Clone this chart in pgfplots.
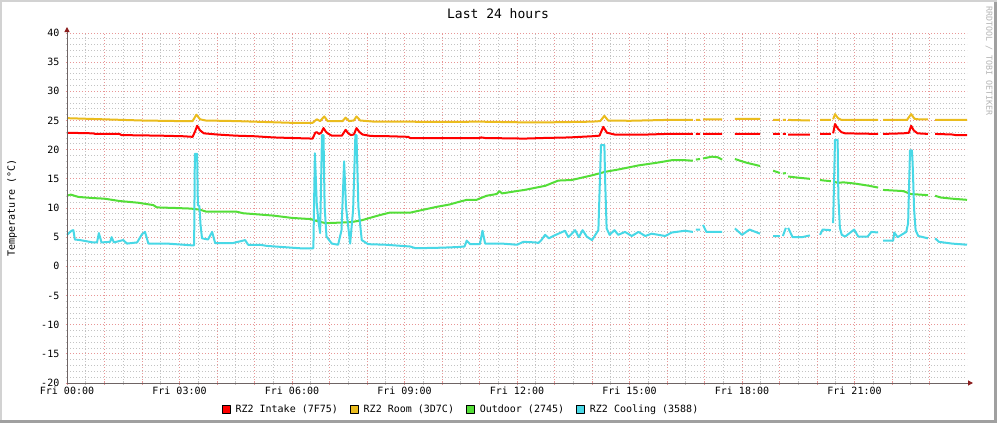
\documentclass[border=0pt]{standalone}
\usepackage{pgfplots}
\pgfplotsset{compat=1.18}
\usepackage{fontspec}
\setmainfont{DejaVu Sans Mono}
\usetikzlibrary{arrows.meta}
\definecolor{cIntake}{RGB}{255,0,0}
\definecolor{cRoom}{RGB}{234,188,30}
\definecolor{cOut}{RGB}{84,222,56}
\definecolor{cCool}{RGB}{72,216,230}
\definecolor{gMajor}{RGB}{232,150,150}
\definecolor{gMinor}{RGB}{195,195,195}
\definecolor{axcol}{RGB}{110,100,100}
\definecolor{arcol}{RGB}{140,30,30}
\definecolor{frameLight}{RGB}{210,210,210}
\definecolor{frameDark}{RGB}{160,160,160}
\begin{document}
\begin{tikzpicture}
\path[use as bounding box] (0,0) rectangle (997bp,423bp);
\fill[white] (0,0) rectangle (997bp,423bp);
\fill[frameLight] (0,421bp) rectangle (997bp,423bp);
\fill[frameLight] (0,0) rectangle (2bp,423bp);
\fill[frameDark] (0,0) rectangle (997bp,3bp);
\fill[frameDark] (994bp,0) rectangle (997bp,421bp);
\node[rotate=-90, font=\fontsize{8.3bp}{10bp}\selectfont, text={rgb,255:red,180;green,180;blue,180}] at (989bp,362bp) {RRDTOOL / TOBI OETIKER};
\node[font=\fontsize{13bp}{15bp}\selectfont, anchor=base] at (498bp,404bp) {Last 24 hours};
\begin{axis}[
  at={(67bp,40bp)}, anchor=south west, scale only axis,
  width=900bp, height=350bp,
  xmin=0, xmax=24, ymin=-20, ymax=40,
  axis line style={draw=none},
  clip=false,
  unbounded coords=jump,
  xtick={0,...,23},
  xticklabels={Fri 00:00,,,Fri 03:00,,,Fri 06:00,,,Fri 09:00,,,Fri 12:00,,,Fri 15:00,,,Fri 18:00,,,Fri 21:00,,,},
  minor x tick num=1,
  ytick={-20,-15,...,40},
  yticklabels={-20,-15,-10,-5,0,5,10,15,20,25,30,35,40},
  minor y tick num=4,
  xtick pos=bottom, ytick pos=left,
  tick align=center,
  major tick length=3bp, minor tick length=3bp,
  every major tick/.append style={draw=gMajor, line width=1bp},
  every minor tick/.append style={draw=gMinor, line width=1bp},
  grid=both,
  major grid style={draw=gMajor, line width=0.9bp, dash pattern=on 1bp off 2bp},
  minor grid style={draw=gMinor, line width=0.9bp, dash pattern=on 1bp off 2bp},
  ticklabel style={font=\fontsize{10bp}{12bp}\selectfont},
  xticklabel style={anchor=base, yshift=-10bp},
  yticklabel style={anchor=east, inner sep=0pt, xshift=-6bp},
  ylabel={Temperature (°C)},
  ylabel style={at={(axis description cs:-0.0611,0.5)}, anchor=center, rotate=0, font=\fontsize{10bp}{12bp}\selectfont},
  legend style={at={(axis description cs:0.4367,-0.0743)}, anchor=center, draw=none, fill=none,
    font=\fontsize{10bp}{12bp}\selectfont, inner sep=0pt, nodes={inner sep=0pt},
    /tikz/every odd column/.append style={column sep=5bp},
    /tikz/every even column/.append style={column sep=12bp}},
  legend columns=4,
  legend image code/.code={\draw[line width=0.8bp, draw=black, fill] (0bp,-4bp) rectangle (8bp,4bp);},
  every axis plot/.append style={line width=2bp, line join=round},
]
\addplot[color=cIntake] coordinates {
(0,22.9)(0.7,22.8)(0.75,22.7)(1.4,22.7)(1.45,22.5)(2.5,22.4)(3.1,22.3)(3.35,22.2)(3.42,23.2)(3.47,24.1)(3.55,23.3)(3.65,22.8)(4.0,22.6)(4.5,22.4)(5.0,22.3)(5.5,22.1)(6.0,22.0)(6.55,21.9)(6.62,22.9)(6.66,23.0)(6.72,22.7)(6.78,22.9)(6.84,23.7)(6.9,23.1)(6.95,22.8)(7.06,22.4)(7.33,22.4)(7.43,23.4)(7.5,22.8)(7.57,22.5)(7.65,22.6)(7.72,23.7)(7.8,23.0)(7.88,22.6)(8.1,22.35)(8.6,22.3)(9.1,22.2)(9.15,22.0)(10,22.0)(11,22.0)(11.05,22.1)(11.15,22.0)(12.2,21.9)(12.7,22.0)(13.4,22.1)(14.0,22.3)(14.2,22.4)(14.3,23.9)(14.4,22.9)(14.6,22.6)(15.5,22.6)(16.0,22.7)(16.69,22.7)(16.73,nan)(16.77,22.7)(16.88,22.7)(16.92,nan)(16.96,22.7)(17.47,22.7)(17.6,nan)(17.81,22.7)(18.48,22.7)(18.6,nan)(18.83,22.7)(19.01,22.7)(19.05,nan)(19.09,22.7)(19.17,22.7)(19.2,nan)(19.23,22.6)(19.81,22.6)(19.9,nan)(20.08,22.7)(20.37,22.7)(20.4,nan)(20.43,22.8)(20.48,24.4)(20.56,23.6)(20.65,23.0)(20.75,22.8)(21.63,22.7)(21.7,nan)(21.76,22.7)(22.3,22.8)(22.45,22.9)(22.51,24.1)(22.58,23.3)(22.68,22.8)(22.96,22.7)(23.05,nan)(23.15,22.7)(23.6,22.6)(23.7,22.5)(24.0,22.5)
};
\addlegendentry{RZ2 Intake (7F75)}
\addplot[color=cRoom] coordinates {
(0,25.4)(0.5,25.3)(1.0,25.2)(2.0,25.0)(3.0,24.9)(3.35,24.9)(3.45,26.0)(3.55,25.2)(3.7,25.0)(4.5,24.9)(5.0,24.8)(6.0,24.6)(6.55,24.6)(6.66,25.2)(6.75,24.9)(6.86,25.7)(6.95,24.9)(7.35,24.9)(7.43,25.5)(7.52,24.9)(7.65,25.0)(7.72,25.7)(7.82,25.0)(8.2,24.8)(9,24.8)(10,24.75)(11,24.8)(12,24.7)(13,24.7)(14,24.8)(14.22,24.9)(14.33,25.8)(14.43,25.0)(15,24.95)(16,25.1)(16.69,25.1)(16.73,nan)(16.77,25.1)(16.88,25.1)(16.92,nan)(16.96,25.2)(17.47,25.2)(17.6,nan)(17.81,25.3)(18.48,25.3)(18.6,nan)(18.83,25.1)(19.01,25.1)(19.05,nan)(19.09,25.1)(19.17,25.1)(19.2,nan)(19.23,25.1)(19.81,25.0)(19.9,nan)(20.08,25.1)(20.37,25.1)(20.4,nan)(20.43,25.2)(20.48,26.1)(20.56,25.4)(20.65,25.1)(21.63,25.1)(21.7,nan)(21.76,25.1)(22.4,25.1)(22.51,26.1)(22.6,25.3)(22.7,25.2)(22.96,25.2)(23.05,nan)(23.15,25.1)(24,25.1)
};
\addlegendentry{RZ2 Room (3D7C)}
\addplot[color=cOut] coordinates {
(0,12.1)(0.1,12.3)(0.3,11.9)(0.7,11.7)(1.0,11.6)(1.4,11.2)(1.9,10.9)(2.3,10.5)(2.4,10.1)(2.9,10.0)(3.3,9.9)(3.55,9.7)(3.7,9.4)(4.0,9.4)(4.5,9.4)(4.7,9.1)(5.5,8.7)(6.0,8.3)(6.5,8.1)(6.7,7.7)(6.9,7.4)(7.3,7.5)(7.6,7.6)(7.86,7.9)(8.13,8.4)(8.35,8.8)(8.6,9.2)(9.15,9.2)(9.5,9.7)(9.86,10.2)(10.2,10.6)(10.48,11.1)(10.66,11.4)(10.92,11.4)(11.19,12.1)(11.46,12.4)(11.53,12.9)(11.6,12.5)(11.99,12.9)(12.2,13.1)(12.75,13.8)(13.1,14.7)(13.46,14.8)(14.0,15.6)(14.35,16.2)(14.7,16.6)(15.24,17.3)(15.77,17.8)(16.13,18.2)(16.48,18.2)(16.69,18.1)(16.73,nan)(16.77,18.3)(16.88,18.4)(16.92,nan)(16.96,18.5)(17.2,18.8)(17.35,18.7)(17.47,18.3)(17.6,nan)(17.81,18.4)(18.1,17.8)(18.48,17.2)(18.6,nan)(18.83,16.4)(19.01,16.0)(19.05,nan)(19.09,15.9)(19.17,16.0)(19.2,nan)(19.23,15.4)(19.5,15.2)(19.81,15.0)(19.9,nan)(20.08,14.8)(20.2,14.7)(20.37,14.6)(20.4,nan)(20.43,14.6)(20.55,14.3)(20.7,14.4)(21.0,14.2)(21.4,13.8)(21.63,13.5)(21.7,nan)(21.76,13.1)(22.3,12.9)(22.5,12.4)(22.96,12.2)(23.05,nan)(23.15,12.1)(23.3,11.8)(23.6,11.6)(24.0,11.4)
};
\addlegendentry{Outdoor (2745)}
\addplot[color=cCool] coordinates {
(0,5.4)(0.12,6.1)(0.17,6.2)(0.21,4.6)(0.35,4.5)(0.69,4.1)(0.8,4.1)(0.85,5.7)(0.92,4.1)(1.15,4.2)(1.19,5.0)(1.25,4.1)(1.5,4.5)(1.6,3.9)(1.87,4.1)(2.0,5.5)(2.08,5.9)(2.17,3.9)(2.67,3.9)(3.33,3.6)(3.39,3.6)(3.41,19.3)(3.47,19.3)(3.49,10.5)(3.53,10.3)(3.56,7.2)(3.6,4.8)(3.76,4.6)(3.87,5.9)(3.95,4.0)(4.43,4.0)(4.69,4.4)(4.75,4.5)(4.83,3.7)(5.15,3.7)(5.33,3.5)(6.21,3.1)(6.57,3.1)(6.61,19.4)(6.66,10.8)(6.7,8.0)(6.75,5.7)(6.8,22.5)(6.84,22.5)(6.87,10.2)(6.92,5.1)(7.06,3.9)(7.23,3.7)(7.32,6.2)(7.39,18.0)(7.44,10.2)(7.55,3.9)(7.63,9.7)(7.69,22.5)(7.72,22.5)(7.77,10.2)(7.86,4.5)(8.03,3.8)(8.5,3.7)(9.15,3.4)(9.3,3.1)(10.0,3.2)(10.4,3.3)(10.6,3.4)(10.66,4.4)(10.75,3.8)(11.01,3.8)(11.08,6.1)(11.15,3.9)(11.6,3.9)(12.0,3.7)(12.17,4.2)(12.5,4.1)(12.57,4.0)(12.65,4.5)(12.75,5.4)(12.85,4.8)(13.0,5.3)(13.28,6.1)(13.37,5.0)(13.55,6.2)(13.65,5.0)(13.75,6.2)(13.86,5.1)(14.0,4.5)(14.08,5.3)(14.17,6.2)(14.24,20.8)(14.33,20.8)(14.35,14.8)(14.39,6.5)(14.47,5.4)(14.6,6.2)(14.7,5.4)(14.88,5.9)(15.06,5.2)(15.24,5.9)(15.42,5.2)(15.59,5.6)(15.95,5.2)(16.13,5.8)(16.48,6.1)(16.69,5.9)(16.73,nan)(16.77,6.3)(16.88,6.3)(16.92,nan)(16.96,7.1)(17.05,5.9)(17.47,5.9)(17.6,nan)(17.81,6.5)(18.0,5.4)(18.2,6.3)(18.48,5.6)(18.6,nan)(18.83,5.2)(19.01,5.2)(19.05,nan)(19.09,5.2)(19.17,6.6)(19.2,nan)(19.23,6.6)(19.35,5.0)(19.6,5.0)(19.81,5.3)(19.9,nan)(20.08,5.4)(20.15,6.3)(20.37,6.2)(20.4,nan)(20.43,7.4)(20.48,21.7)(20.55,21.7)(20.57,11.9)(20.61,6.6)(20.66,5.4)(20.75,5.1)(20.99,6.3)(21.1,5.1)(21.35,5.1)(21.45,5.9)(21.63,5.8)(21.7,nan)(21.76,4.4)(22.03,4.4)(22.06,5.8)(22.15,5.0)(22.38,5.9)(22.43,7.4)(22.48,19.9)(22.53,19.9)(22.55,17.7)(22.59,9.7)(22.63,6.2)(22.7,5.2)(22.96,4.8)(23.05,nan)(23.15,4.8)(23.25,4.2)(23.6,3.9)(24.0,3.7)
};
\addlegendentry{RZ2 Cooling (3588)}
\draw[axcol, line width=1bp, -{Triangle[length=5bp,width=5bp,color=arcol]}] (axis cs:0,-20) -- ([xshift=6bp]axis cs:24,-20);
\draw[axcol, line width=1bp, -{Triangle[length=5bp,width=5bp,color=arcol]}] (axis cs:0,-20) -- ([yshift=6bp]axis cs:0,40);
\end{axis}
\end{tikzpicture}
\end{document}
